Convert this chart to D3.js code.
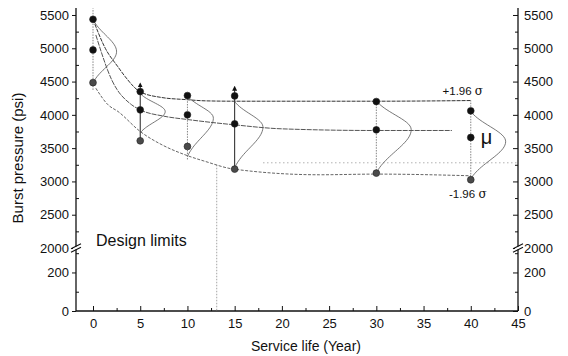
<!DOCTYPE html>
<html>
<head>
<meta charset="utf-8">
<script src="https://cdn.jsdelivr.net/npm/d3@7"></script>
<style>
  body { margin: 0; background: #fff; }
  text { font-family: "Liberation Sans", Arial, sans-serif; fill: #111; }
</style>
</head>
<body>
<div id="chart"></div>
<script>
// measured points at each inspection year
const years = [0, 5, 10, 15, 30, 40];
const upperPts = [5435, 4350, 4290, 4285, 4200, 4060];
const meanPts = [4975, 4075, 4000, 3865, 3775, 3660];
const lowerPts = [4484, 3610, 3525, 3185, 3125, 3025];

// fitted curves
const upperFitYears = [0, 1.3, 2.65, 3.4, 5, 7.3, 9.75, 12, 15, 30, 40];
const upperFitPsi = [5435, 5000, 4720, 4575, 4345, 4260, 4230, 4210, 4205, 4205, 4215];
const meanFitYears = [0.3, 2, 4.1, 5, 7.5, 10, 15, 20, 30, 38];
const meanFitPsi = [5200, 4520, 4150, 4075, 3980, 3930, 3850, 3790, 3765, 3765];
const lowerFitYears = [0.3, 1.6, 2.65, 5, 7.3, 9.75, 11.9, 14.9, 24, 30, 40];
const lowerFitPsi = [4400, 4150, 4050, 3750, 3550, 3400, 3300, 3185, 3100, 3110, 3085];

// distribution sketches (top / peak / bottom in psi, width in years)
const bellTop = [5435, 4320, 4285, 4200, 4210, 4050];
const bellPeak = [4950, 4050, 3955, 3820, 3780, 3600];
const bellBottom = [4480, 3730, 3375, 3205, 3130, 3040];
const bellWidth = [2.5, 2.65, 2.75, 3, 3.7, 3.7];

// vertical connectors
const stemTop = [5600, 4450, 4290, 4400, 4210, 4215];
const stemBottom = [4375, 3610, 3330, 3185, 3125, 3025];
const stemSolid = [false, true, false, true, false, false];

// design limit guides
const designYear = 13.1;
const designPsi = 3280;
const designLineStart = 18;

// ticks
const xTicks = [0, 5, 10, 15, 20, 25, 30, 35, 40, 45];
const xMinor = [2.5, 7.5, 12.5, 17.5, 22.5, 27.5, 32.5, 37.5, 42.5];
const yHiTicks = [2000, 2500, 3000, 3500, 4000, 4500, 5000, 5500];
const yHiMinor = [2250, 2750, 3250, 3750, 4250, 4750, 5250];
const yLoTicks = [0, 200];
const yLoMinor = [100, 300];

const W = 568, H = 356;
const svg = d3.select("#chart").append("svg")
  .attr("width", W).attr("height", H);

const x = d3.scaleLinear().domain([-1.8, 45]).range([76, 518]);
const yHi = d3.scaleLinear().domain([2000, 5605]).range([248, 8]);
const yLo = d3.scaleLinear().domain([0, 327]).range([311, 248]);
const fmt = d3.format("d");

// axes
const gx = svg.append("g").attr("transform", "translate(0," + yLo(0) + ")")
  .call(d3.axisBottom(x).tickValues(xTicks).tickFormat(fmt).tickSizeInner(-5).tickSizeOuter(0).tickPadding(8));
gx.append("g").call(d3.axisBottom(x).tickValues(xMinor).tickSizeInner(-3).tickSizeOuter(0).tickFormat(""));

function yAxis(left) {
  const g = svg.append("g").attr("transform", "translate(" + (left ? x.range()[0] : x.range()[1]) + ",0)");
  const mk = s => left ? d3.axisLeft(s) : d3.axisRight(s);
  g.append("g").call(mk(yHi).tickValues(yHiTicks).tickFormat(fmt).tickSizeInner(left ? 4 : -5).tickSizeOuter(0).tickPadding(left ? 3 : 6));
  g.append("g").call(mk(yHi).tickValues(yHiMinor).tickSizeInner(-3).tickSizeOuter(0).tickFormat(""));
  g.append("g").call(mk(yLo).tickValues(yLoTicks).tickFormat(fmt).tickSizeInner(left ? 4 : -5).tickSizeOuter(0).tickPadding(left ? 3 : 6));
  g.append("g").call(mk(yLo).tickValues(yLoMinor).tickSizeInner(-3).tickSizeOuter(0).tickFormat(""));
  // axis line with break
  g.append("line").attr("y1", yLo(0)).attr("y2", yHi(5605)).attr("stroke", "#111").attr("stroke-width", 1.3);
  const yb = yHi(2000);
  g.append("rect").attr("x", -3).attr("y", yb - 1.5).attr("width", 6).attr("height", 3).attr("fill", "#fff");
  [-1.8, 1.8].forEach(d => {
    g.append("line").attr("x1", -5).attr("x2", 5).attr("y1", yb + d + 2.5).attr("y2", yb + d - 2.5)
      .attr("stroke", "#111").attr("stroke-width", 1.2);
  });
}
yAxis(true);
yAxis(false);

svg.selectAll(".domain").remove();
svg.selectAll(".tick line").attr("stroke", "#111");
svg.selectAll(".tick text").style("font-size", "13px").style("fill", "#111");
svg.append("line").attr("x1", x.range()[0]).attr("x2", x.range()[1])
  .attr("y1", yLo(0)).attr("y2", yLo(0)).attr("stroke", "#111").attr("stroke-width", 1.3);

// axis titles
svg.append("text").attr("x", 306).attr("y", 351).attr("text-anchor", "middle")
  .style("font-size", "14px").text("Service life (Year)");
svg.append("text").attr("transform", "translate(23,158) rotate(-90)").attr("text-anchor", "middle")
  .style("font-size", "15px").text("Burst pressure (psi)");

// design limit guides
svg.append("line").attr("x1", x(designYear)).attr("x2", x(designYear))
  .attr("y1", yHi(designPsi - 30)).attr("y2", yLo(0))
  .attr("stroke", "#999").attr("stroke-width", 0.9).attr("stroke-dasharray", "1.5,1.5");
svg.append("line").attr("x1", x(designLineStart)).attr("x2", x(45))
  .attr("y1", yHi(designPsi)).attr("y2", yHi(designPsi))
  .attr("stroke", "#aaa").attr("stroke-width", 0.9).attr("stroke-dasharray", "1.5,2.5");

// fitted curves
const line = d3.line().x(d => x(d[0])).y(d => yHi(d[1])).curve(d3.curveMonotoneX);
const fits = [
  [upperFitYears, upperFitPsi, "#333", "4,1"],
  [meanFitYears, meanFitPsi, "#555", "5,1"],
  [lowerFitYears, lowerFitPsi, "#666", "3,1.5"]
];
fits.forEach(f => {
  svg.append("path").datum(d3.zip(f[0], f[1])).attr("d", line)
    .attr("fill", "none").attr("stroke", f[2]).attr("stroke-width", 1).attr("stroke-dasharray", f[3]);
});

// stems
svg.append("defs").append("marker").attr("id", "tip").attr("viewBox", "0 0 6 6")
  .attr("refX", 3).attr("refY", 3).attr("markerWidth", 5).attr("markerHeight", 5).attr("orient", "auto")
  .append("path").attr("d", "M0,0 L6,3 L0,6 Z").attr("fill", "#111");
years.forEach((t, i) => {
  svg.append("line").attr("x1", x(t)).attr("x2", x(t))
    .attr("y1", yHi(stemBottom[i])).attr("y2", yHi(stemTop[i]))
    .attr("stroke", stemSolid[i] ? "#222" : "#777")
    .attr("stroke-width", stemSolid[i] ? 1 : 0.9)
    .attr("stroke-dasharray", stemSolid[i] ? null : "1.5,1.2")
    .attr("marker-end", stemSolid[i] ? "url(#tip)" : null);
});

// distribution sketches
const e0 = Math.exp(-1.96 * 1.96 / 2);
years.forEach((t, i) => {
  const vals = d3.range(0, 41).map(k => bellTop[i] + (bellBottom[i] - bellTop[i]) * k / 40);
  const pts = vals.map(v => {
    const s = v >= bellPeak[i] ? (bellTop[i] - bellPeak[i]) / 1.96 : (bellPeak[i] - bellBottom[i]) / 1.96;
    const z = (v - bellPeak[i]) / s;
    const f = (Math.exp(-z * z / 2) - e0) / (1 - e0);
    return [t + bellWidth[i] * Math.max(f, 0), v];
  });
  svg.append("path").datum(pts).attr("d", d3.line().x(d => x(d[0])).y(d => yHi(d[1])).curve(d3.curveBasis))
    .attr("fill", "none").attr("stroke", "#555").attr("stroke-width", 0.8);
});

// points
const dots = [[upperPts, "#111"], [meanPts, "#111"], [lowerPts, "#4a4a4a"]];
dots.forEach(s => {
  svg.selectAll(null).data(d3.zip(years, s[0])).enter().append("circle")
    .attr("cx", d => x(d[0])).attr("cy", d => yHi(d[1])).attr("r", 3.4)
    .attr("fill", s[1]).attr("stroke", "#222").attr("stroke-width", 0.6);
});

// annotations
svg.append("text").attr("x", x(40) - 8).attr("y", 95).attr("text-anchor", "middle")
  .style("font-size", "11.5px").html("+1.96 <tspan style='font-family:DejaVu Serif; font-size:12px'>σ</tspan>");
svg.append("text").attr("x", x(40) - 3).attr("y", 198).attr("text-anchor", "middle")
  .style("font-size", "11.5px").html("-1.96 <tspan style='font-family:DejaVu Serif; font-size:12px'>σ</tspan>");
svg.append("text").attr("x", x(40) + 10).attr("y", 144)
  .style("font-size", "20px").text("μ");
svg.append("text").attr("x", x(0) + 3).attr("y", 246)
  .style("font-size", "16px").text("Design limits");
</script>
</body>
</html>
